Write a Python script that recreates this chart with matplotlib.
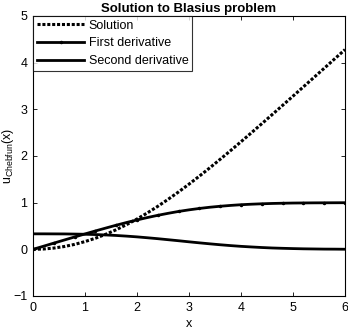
import matplotlib
matplotlib.use("Agg")
import matplotlib.pyplot as plt
import numpy as np

plt.rcParams['font.family'] = ['Liberation Sans', 'DejaVu Sans']
plt.rcParams['mathtext.fontset'] = 'custom'
plt.rcParams['mathtext.rm'] = 'Liberation Sans'

x = [0.0, 0.2, 0.4, 0.6, 0.8, 1.0, 1.2, 1.4, 1.6, 1.8, 2.0, 2.2, 2.4, 2.6, 2.8,
     3.0, 3.2, 3.4, 3.6, 3.8, 4.0, 4.2, 4.4, 4.6, 4.8, 5.0, 5.2, 5.4, 5.6, 5.8, 6.0]
solution = [0.000, 0.007, 0.027, 0.060, 0.106, 0.166, 0.238, 0.323, 0.420, 0.530,
            0.650, 0.781, 0.922, 1.073, 1.231, 1.397, 1.569, 1.747, 1.930, 2.116,
            2.306, 2.498, 2.692, 2.888, 3.085, 3.283, 3.482, 3.681, 3.880, 4.080, 4.280]
first_deriv = [0.000, 0.066, 0.133, 0.199, 0.265, 0.330, 0.394, 0.456, 0.517, 0.575,
               0.630, 0.681, 0.729, 0.772, 0.812, 0.846, 0.876, 0.902, 0.923, 0.941,
               0.956, 0.967, 0.976, 0.983, 0.988, 0.992, 0.994, 0.996, 0.997, 0.998, 0.999]
second_deriv = [0.332, 0.332, 0.331, 0.330, 0.327, 0.323, 0.317, 0.308, 0.297, 0.283,
                0.267, 0.248, 0.228, 0.206, 0.184, 0.161, 0.139, 0.118, 0.098, 0.080,
                0.064, 0.051, 0.039, 0.029, 0.022, 0.016, 0.011, 0.008, 0.005, 0.004, 0.002]

fig = plt.figure(figsize=(3.48, 3.29), dpi=100)
ax = fig.add_axes([33/348, 1 - 296/329, 312/348, 280/329])

ax.plot(x, solution, color='black', linestyle=(0, (1, 0.6)), linewidth=2.2,
        label='Solution')
ax.plot(x, first_deriv, color='black', linestyle='-', linewidth=2.0,
        marker='.', markersize=3, markevery=2, label='First derivative')
ax.plot(x, second_deriv, color='black', linestyle='-', linewidth=2.0,
        label='Second derivative')

ax.set_xlim(0, 6)
ax.set_ylim(-1, 5)
ax.set_xticks(range(0, 7))
ax.set_yticks(range(-1, 6))
ax.tick_params(direction='in', length=3, labelsize=9, width=0.6,
               top=True, right=True, pad=4)
for s in ax.spines.values():
    s.set_linewidth(0.8)

ax.set_xlabel('x', fontsize=9)
ax.xaxis.set_label_coords(0.5, -(318 - 296) / 280)
ax.set_ylabel(r'u$_{\mathrm{Chebfun}}$(x)', fontsize=9)
ax.yaxis.set_label_coords(-(33 - 16) / 312, 0.5)
ax.set_title('Solution to Blasius problem', fontsize=9.5, fontweight='bold', pad=3)

leg = ax.legend(loc='upper left', fontsize=9, frameon=True, fancybox=False,
                edgecolor='black', borderaxespad=0, handlelength=3.8,
                handletextpad=0.35, borderpad=0.3, labelspacing=0.45)
leg.get_frame().set_linewidth(0.8)

fig.savefig('out.png', dpi=100)
